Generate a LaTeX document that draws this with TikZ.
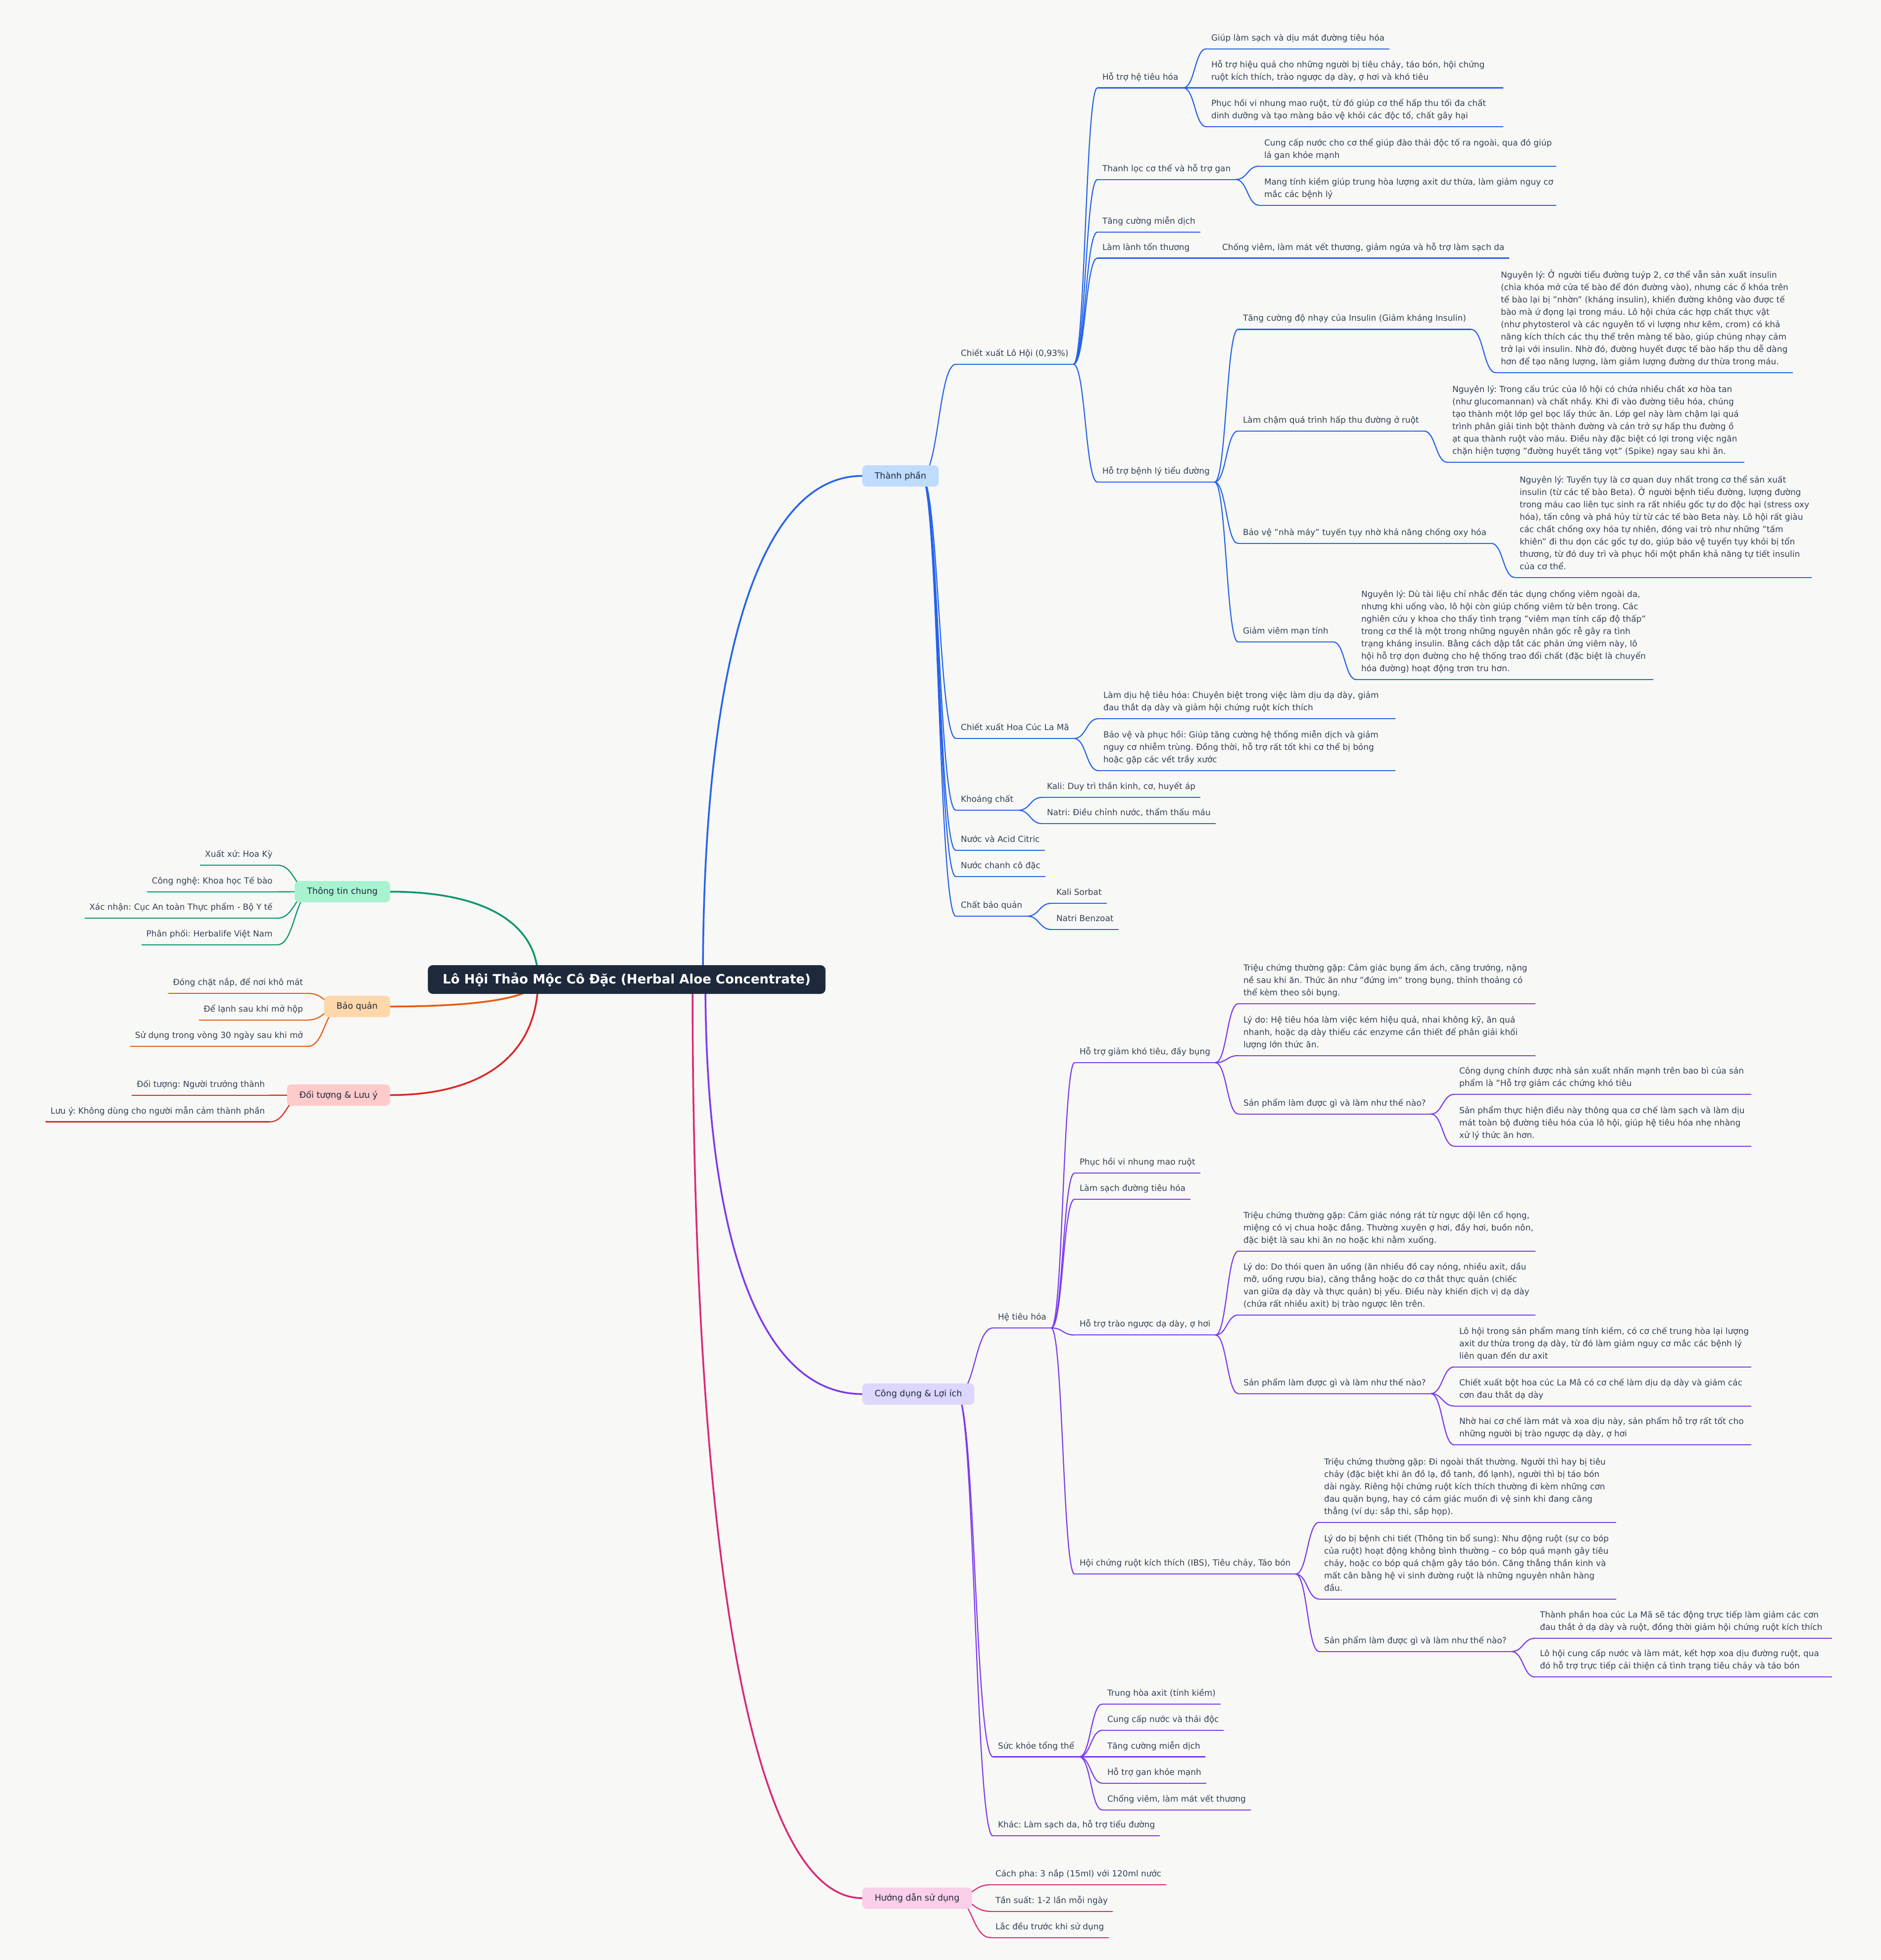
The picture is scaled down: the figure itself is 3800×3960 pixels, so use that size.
\documentclass[tikz,border=0pt]{standalone}
\usepackage{fontspec}
\setmainfont{DejaVu Sans}
\usetikzlibrary{calc}
\frenchspacing
\pgfdeclarelayer{back}
\pgfdeclarelayer{bg}
\pgfsetlayers{back,bg,main}
\definecolor{bgc}{HTML}{F8F8F6}
\definecolor{tx}{HTML}{334155}
\definecolor{tx2}{HTML}{1E293B}
\definecolor{cRoot}{HTML}{1E293B}
\definecolor{cB}{HTML}{2563EB}
\definecolor{cP}{HTML}{7C3AED}
\definecolor{cK}{HTML}{DB2777}
\definecolor{cG}{HTML}{059669}
\definecolor{cO}{HTML}{EA580C}
\definecolor{cR}{HTML}{DC2626}
\definecolor{fB}{HTML}{BFDBFE}
\definecolor{fP}{HTML}{DDD6FE}
\definecolor{fK}{HTML}{FBCFE8}
\definecolor{fG}{HTML}{A7F3D0}
\definecolor{fO}{HTML}{FED7AA}
\definecolor{fR}{HTML}{FECACA}
\newcommand\dstrut{\rule[-16.5pt]{0pt}{16.5pt}}
\tikzset{
  txt/.style={font=\fontsize{16.9}{25}\selectfont\frenchspacing, text=tx, inner xsep=10pt, inner ysep=0pt, outer sep=0pt, align=left},
  ul/.style={draw=#1, line width=2.2pt},
  lk/.style={draw=#1, line width=2.2pt},
  rlk/.style={draw=#1, line width=3.5pt},
  mm/.style={to path={let \p1=(\tikztostart), \p2=(\tikztotarget) in .. controls ({(\x1+\x2)/2},\y1) and ({(\x1+\x2)/2},\y2) .. (\tikztotarget)}},
  rc/.style={to path={let \p1=(\tikztostart), \p2=(\tikztotarget) in .. controls (\x1,{\y1+0.62*(\y2-\y1)}) and ({\x1+0.34*(\x2-\x1)},\y2) .. (\tikztotarget)}},
  box/.style={rounded corners=9pt, minimum height=43pt, inner xsep=25pt, inner ysep=0pt, font=\fontsize{17.5}{21}\selectfont, text=tx2, outer sep=0pt},
  rootbox/.style={fill=cRoot, text=white, rounded corners=10pt, minimum height=58pt, minimum width=802pt, inner xsep=30pt, font=\fontsize{26}{30}\selectfont\bfseries, outer sep=0pt}
}
% right-side single line node: name, text left x, underline y, colour, text
\newcommand\nR[5]{\node[txt,anchor=south west] (#1) at (#2-10,#3) {#5\dstrut};
  \draw[ul=#4] (#1.south west) -- (#1.south east);}
% right-side wrapped node (fixed 600 width underline)
\newcommand\wR[5]{\node[txt,anchor=south west] (#1) at (#2-10,#3) {#5\dstrut};
  \draw[ul=#4] (#1.south west) -- ++(600,0);}
% left-side node: name, text right x, underline y, colour, text
\newcommand\nL[5]{\node[txt,anchor=south east] (#1) at (#2+12,#3) {#5\dstrut};
  \draw[ul=#4] (#1.south west) -- (#1.south east);}

\begin{document}
\begin{tikzpicture}[x=1pt,y=-1pt]
\useasboundingbox (0,0) rectangle (3800,3960);
\begin{pgfonlayer}{back}
\fill[bgc] (0,0) rectangle (3800,3960);
\end{pgfonlayer}

% ---------- root and branch boxes ----------
\node[rootbox] (root) at (1266,1979) {Lô Hội Thảo Mộc Cô Đặc (Herbal Aloe Concentrate)};
\node[box, fill=fB, anchor=west] (tpb) at (1742,961.5) {Thành phần};
\node[box, fill=fP, anchor=west] (cdb) at (1742,2816.5) {Công dụng \& Lợi ích};
\node[box, fill=fK, anchor=west] (hdb) at (1742,3835) {Hướng dẫn sử dụng};
\node[box, fill=fG, anchor=east] (ttb) at (788,1801.5) {Thông tin chung};
\node[box, fill=fO, anchor=east] (bqb) at (788,2033.5) {Bảo quản};
\node[box, fill=fR, anchor=east] (dtb) at (788,2212.5) {Đối tượng \& Lưu ý};

\coordinate (rsL) at (1087,1979);
\coordinate (rsB) at (1420,1979);
\coordinate (rsP) at (1425,1979);
\coordinate (rsK) at (1399,1979);
\coordinate (tpsrc) at ($(tpb.east)+(-35,0)$);
\coordinate (cdsrc) at ($(cdb.east)+(-35,0)$);
\coordinate (hdsrc) at ($(hdb.east)+(-35,0)$);
\coordinate (ttsrc) at ($(ttb.west)+(35,0)$);
\coordinate (bqsrc) at ($(bqb.west)+(35,0)$);
\coordinate (dtsrc) at ($(dtb.west)+(35,0)$);

% ---------- Thành phần ----------
\nR{lohoi}{1941}{736}{cB}{Chiết xuất Lô Hội (0,93\%)}
\nR{ht1}{2227}{177.5}{cB}{Hỗ trợ hệ tiêu hóa}
\nR{ht1a}{2447}{98.7}{cB}{Giúp làm sạch và dịu mát đường tiêu hóa}
\wR{ht1b}{2447}{177.5}{cB}{Hỗ trợ hiệu quả cho những người bị tiêu chảy, táo bón, hội chứng\\ruột kích thích, trào ngược dạ dày, ợ hơi và khó tiêu}
\wR{ht1c}{2447}{256}{cB}{Phục hồi vi nhung mao ruột, từ đó giúp cơ thể hấp thu tối đa chất\\dinh dưỡng và tạo màng bảo vệ khỏi các độc tố, chất gây hại}
\nR{ht2}{2227}{362.7}{cB}{Thanh lọc cơ thể và hỗ trợ gan}
\wR{ht2a}{2554}{335.6}{cB}{Cung cấp nước cho cơ thể giúp đào thải độc tố ra ngoài, qua đó giúp\\lá gan khỏe mạnh}
\wR{ht2b}{2554}{414.7}{cB}{Mang tính kiềm giúp trung hòa lượng axit dư thừa, làm giảm nguy cơ\\mắc các bệnh lý}
\nR{ht3}{2227}{469}{cB}{Tăng cường miễn dịch}
\nR{ht4}{2227}{521.5}{cB}{Làm lành tổn thương}
\nR{ht4a}{2469}{521.5}{cB}{Chống viêm, làm mát vết thương, giảm ngứa và hỗ trợ làm sạch da}
\nR{ht5}{2227}{974}{cB}{Hỗ trợ bệnh lý tiểu đường}
\nR{td1}{2511}{665.4}{cB}{Tăng cường độ nhạy của Insulin (Giảm kháng Insulin)}
\wR{td1a}{3032}{753}{cB}{Nguyên lý: Ở người tiểu đường tuýp 2, cơ thể vẫn sản xuất insulin\\(chìa khóa mở cửa tế bào để đón đường vào), nhưng các ổ khóa trên\\tế bào lại bị "nhờn" (kháng insulin), khiến đường không vào được tế\\bào mà ứ đọng lại trong máu. Lô hội chứa các hợp chất thực vật\\(như phytosterol và các nguyên tố vi lượng như kẽm, crom) có khả\\năng kích thích các thụ thể trên màng tế bào, giúp chúng nhạy cảm\\trở lại với insulin. Nhờ đó, đường huyết được tế bào hấp thu dễ dàng\\hơn để tạo năng lượng, làm giảm lượng đường dư thừa trong máu.}
\nR{td2}{2511}{870.8}{cB}{Làm chậm quá trình hấp thu đường ở ruột}
\wR{td2a}{2934}{934}{cB}{Nguyên lý: Trong cấu trúc của lô hội có chứa nhiều chất xơ hòa tan\\(như glucomannan) và chất nhầy. Khi đi vào đường tiêu hóa, chúng\\tạo thành một lớp gel bọc lấy thức ăn. Lớp gel này làm chậm lại quá\\trình phân giải tinh bột thành đường và cản trở sự hấp thu đường ồ\\ạt qua thành ruột vào máu. Điều này đặc biệt có lợi trong việc ngăn\\chặn hiện tượng "đường huyết tăng vọt" (Spike) ngay sau khi ăn.}
\nR{td3}{2511}{1097.8}{cB}{Bảo vệ "nhà máy" tuyến tụy nhờ khả năng chống oxy hóa}
\wR{td3a}{3070}{1166.6}{cB}{Nguyên lý: Tuyến tụy là cơ quan duy nhất trong cơ thể sản xuất\\insulin (từ các tế bào Beta). Ở người bệnh tiểu đường, lượng đường\\trong máu cao liên tục sinh ra rất nhiều gốc tự do độc hại (stress oxy\\hóa), tấn công và phá hủy từ từ các tế bào Beta này. Lô hội rất giàu\\các chất chống oxy hóa tự nhiên, đóng vai trò như những "tấm\\khiên" đi thu dọn các gốc tự do, giúp bảo vệ tuyến tụy khỏi bị tổn\\thương, từ đó duy trì và phục hồi một phần khả năng tự tiết insulin\\của cơ thể.}
\nR{td4}{2511}{1297}{cB}{Giảm viêm mạn tính}
\wR{td4a}{2750}{1373}{cB}{Nguyên lý: Dù tài liệu chỉ nhắc đến tác dụng chống viêm ngoài da,\\nhưng khi uống vào, lô hội còn giúp chống viêm từ bên trong. Các\\nghiên cứu y khoa cho thấy tình trạng "viêm mạn tính cấp độ thấp"\\trong cơ thể là một trong những nguyên nhân gốc rễ gây ra tình\\trạng kháng insulin. Bằng cách dập tắt các phản ứng viêm này, lô\\hội hỗ trợ dọn đường cho hệ thống trao đổi chất (đặc biệt là chuyển\\hóa đường) hoạt động trơn tru hơn.}
\nR{hoacuc}{1941}{1492}{cB}{Chiết xuất Hoa Cúc La Mã}
\wR{hc1}{2229}{1452}{cB}{Làm dịu hệ tiêu hóa: Chuyên biệt trong việc làm dịu dạ dày, giảm\\đau thắt dạ dày và giảm hội chứng ruột kích thích}
\wR{hc2}{2229}{1557}{cB}{Bảo vệ và phục hồi: Giúp tăng cường hệ thống miễn dịch và giảm\\nguy cơ nhiễm trùng. Đồng thời, hỗ trợ rất tốt khi cơ thể bị bỏng\\hoặc gặp các vết trầy xước}
\nR{khoang}{1941}{1637}{cB}{Khoáng chất}
\nR{kc1}{2115}{1611}{cB}{Kali: Duy trì thần kinh, cơ, huyết áp}
\nR{kc2}{2115}{1664}{cB}{Natri: Điều chỉnh nước, thẩm thấu máu}
\nR{nuoc}{1941}{1718}{cB}{Nước và Acid Citric}
\nR{chanh}{1941}{1771}{cB}{Nước chanh cô đặc}
\nR{cbq}{1941}{1851}{cB}{Chất bảo quản}
\nR{cb1}{2134}{1825}{cB}{Kali Sorbat}
\nR{cb2}{2134}{1878}{cB}{Natri Benzoat}

% ---------- Công dụng & Lợi ích ----------
\nR{hth}{2016}{2683}{cP}{Hệ tiêu hóa}
\nR{kt}{2181}{2147}{cP}{Hỗ trợ giảm khó tiêu, đầy bụng}
\wR{kt1}{2512}{2027.7}{cP}{Triệu chứng thường gặp: Cảm giác bụng ấm ách, căng trướng, nặng\\nề sau khi ăn. Thức ăn như "đứng im" trong bụng, thỉnh thoảng có\\thể kèm theo sôi bụng.}
\wR{kt2}{2512}{2132.7}{cP}{Lý do: Hệ tiêu hóa làm việc kém hiệu quả, nhai không kỹ, ăn quá\\nhanh, hoặc dạ dày thiếu các enzyme cần thiết để phân giải khối\\lượng lớn thức ăn.}
\nR{kt3}{2512}{2250.7}{cP}{Sản phẩm làm được gì và làm như thế nào?}
\wR{kt3a}{2948}{2211}{cP}{Công dụng chính được nhà sản xuất nhấn mạnh trên bao bì của sản\\phẩm là "Hỗ trợ giảm các chứng khó tiêu}
\wR{kt3b}{2948}{2315.7}{cP}{Sản phẩm thực hiện điều này thông qua cơ chế làm sạch và làm dịu\\mát toàn bộ đường tiêu hóa của lô hội, giúp hệ tiêu hóa nhẹ nhàng\\xử lý thức ăn hơn.}
\nR{vn}{2181}{2370}{cP}{Phục hồi vi nhung mao ruột}
\nR{ls}{2181}{2422.7}{cP}{Làm sạch đường tiêu hóa}
\nR{tn}{2181}{2697.3}{cP}{Hỗ trợ trào ngược dạ dày, ợ hơi}
\wR{tn1}{2512}{2527.7}{cP}{Triệu chứng thường gặp: Cảm giác nóng rát từ ngực dội lên cổ họng,\\miệng có vị chua hoặc đắng. Thường xuyên ợ hơi, đầy hơi, buồn nôn,\\đặc biệt là sau khi ăn no hoặc khi nằm xuống.}
\wR{tn2}{2512}{2656.7}{cP}{Lý do: Do thói quen ăn uống (ăn nhiều đồ cay nóng, nhiều axit, dầu\\mỡ, uống rượu bia), căng thẳng hoặc do cơ thắt thực quản (chiếc\\van giữa dạ dày và thực quản) bị yếu. Điều này khiến dịch vị dạ dày\\(chứa rất nhiều axit) bị trào ngược lên trên.}
\nR{tn3}{2512}{2815.7}{cP}{Sản phẩm làm được gì và làm như thế nào?}
\wR{tn3a}{2948}{2761.7}{cP}{Lô hội trong sản phẩm mang tính kiềm, có cơ chế trung hòa lại lượng\\axit dư thừa trong dạ dày, từ đó làm giảm nguy cơ mắc các bệnh lý\\liên quan đến dư axit}
\wR{tn3b}{2948}{2840.7}{cP}{Chiết xuất bột hoa cúc La Mã có cơ chế làm dịu dạ dày và giảm các\\cơn đau thắt dạ dày}
\wR{tn3c}{2948}{2919.3}{cP}{Nhờ hai cơ chế làm mát và xoa dịu này, sản phẩm hỗ trợ rất tốt cho\\những người bị trào ngược dạ dày, ợ hơi}
\nR{ibs}{2181}{3180.3}{cP}{Hội chứng ruột kích thích (IBS), Tiêu chảy, Táo bón}
\wR{ibs1}{2675}{3075.7}{cP}{Triệu chứng thường gặp: Đi ngoài thất thường. Người thì hay bị tiêu\\chảy (đặc biệt khi ăn đồ lạ, đồ tanh, đồ lạnh), người thì bị táo bón\\dài ngày. Riêng hội chứng ruột kích thích thường đi kèm những cơn\\đau quặn bụng, hay có cảm giác muốn đi vệ sinh khi đang căng\\thẳng (ví dụ: sắp thi, sắp họp).}
\wR{ibs2}{2675}{3230.7}{cP}{Lý do bị bệnh chi tiết (Thông tin bổ sung): Nhu động ruột (sự co bóp\\của ruột) hoạt động không bình thường – co bóp quá mạnh gây tiêu\\chảy, hoặc co bóp quá chậm gây táo bón. Căng thẳng thần kinh và\\mất cân bằng hệ vi sinh đường ruột là những nguyên nhân hàng\\đầu.}
\nR{ibs3}{2675}{3336.7}{cP}{Sản phẩm làm được gì và làm như thế nào?}
\wR{ibs3a}{3111}{3310}{cP}{Thành phần hoa cúc La Mã sẽ tác động trực tiếp làm giảm các cơn\\đau thắt ở dạ dày và ruột, đồng thời giảm hội chứng ruột kích thích}
\wR{ibs3b}{3111}{3388.3}{cP}{Lô hội cung cấp nước và làm mát, kết hợp xoa dịu đường ruột, qua\\đó hỗ trợ trực tiếp cải thiện cả tình trạng tiêu chảy và táo bón}
\nR{sk}{2016}{3549.5}{cP}{Sức khỏe tổng thể}
\nR{sk1}{2237}{3442.9}{cP}{Trung hòa axit (tính kiềm)}
\nR{sk2}{2237}{3495.8}{cP}{Cung cấp nước và thải độc}
\nR{sk3}{2237}{3549.5}{cP}{Tăng cường miễn dịch}
\nR{sk4}{2237}{3602.7}{cP}{Hỗ trợ gan khỏe mạnh}
\nR{sk5}{2237}{3656.8}{cP}{Chống viêm, làm mát vết thương}
\nR{khac}{2016}{3709.3}{cP}{Khác: Làm sạch da, hỗ trợ tiểu đường}

% ---------- Hướng dẫn sử dụng ----------
\nR{hd1}{2011}{3808}{cK}{Cách pha: 3 nắp (15ml) với 120ml nước}
\nR{hd2}{2011}{3861.7}{cK}{Tần suất: 1-2 lần mỗi ngày}
\nR{hd3}{2011}{3914.7}{cK}{Lắc đều trước khi sử dụng}

% ---------- left side ----------
\nL{tt1}{548.5}{1748}{cG}{Xuất xứ: Hoa Kỳ}
\nL{tt2}{548.5}{1801.7}{cG}{Công nghệ: Khoa học Tế bào}
\nL{tt3}{548.5}{1855}{cG}{Xác nhận: Cục An toàn Thực phẩm - Bộ Y tế}
\nL{tt4}{548.5}{1908.7}{cG}{Phân phối: Herbalife Việt Nam}
\nL{bq1}{610}{2007}{cO}{Đóng chặt nắp, để nơi khô mát}
\nL{bq2}{610}{2060.7}{cO}{Để lạnh sau khi mở hộp}
\nL{bq3}{610}{2114}{cO}{Sử dụng trong vòng 30 ngày sau khi mở}
\nL{dt1}{533}{2212.8}{cR}{Đối tượng: Người trưởng thành}
\nL{dt2}{533}{2266.5}{cR}{Lưu ý: Không dùng cho người mẫn cảm thành phần}

% ---------- connectors ----------
\begin{pgfonlayer}{bg}
\draw[rlk=cG] (rsL) to[rc] (ttb.east);
\draw[rlk=cO] (rsL) to[rc] (bqb.east);
\draw[rlk=cR] (rsL) to[rc] (dtb.east);
\draw[rlk=cB] (rsB) to[rc] (tpb.west);
\draw[rlk=cP] (rsP) to[rc] (cdb.west);
\draw[rlk=cK] (rsK) to[rc] (hdb.west);

\foreach \c in {lohoi,hoacuc,khoang,nuoc,chanh,cbq} \draw[lk=cB] (tpsrc) to[mm] (\c.south west);
\foreach \c in {ht1,ht2,ht3,ht4,ht5} \draw[lk=cB] (lohoi.south east) to[mm] (\c.south west);
\foreach \c in {ht1a,ht1b,ht1c} \draw[lk=cB] (ht1.south east) to[mm] (\c.south west);
\foreach \c in {ht2a,ht2b} \draw[lk=cB] (ht2.south east) to[mm] (\c.south west);
\draw[lk=cB] (ht4.south east) to[mm] (ht4a.south west);
\foreach \c in {td1,td2,td3,td4} \draw[lk=cB] (ht5.south east) to[mm] (\c.south west);
\draw[lk=cB] (td1.south east) to[mm] (td1a.south west);
\draw[lk=cB] (td2.south east) to[mm] (td2a.south west);
\draw[lk=cB] (td3.south east) to[mm] (td3a.south west);
\draw[lk=cB] (td4.south east) to[mm] (td4a.south west);
\foreach \c in {hc1,hc2} \draw[lk=cB] (hoacuc.south east) to[mm] (\c.south west);
\foreach \c in {kc1,kc2} \draw[lk=cB] (khoang.south east) to[mm] (\c.south west);
\foreach \c in {cb1,cb2} \draw[lk=cB] (cbq.south east) to[mm] (\c.south west);

\foreach \c in {hth,sk,khac} \draw[lk=cP] (cdsrc) to[mm] (\c.south west);
\foreach \c in {kt,vn,ls,tn,ibs} \draw[lk=cP] (hth.south east) to[mm] (\c.south west);
\foreach \c in {kt1,kt2,kt3} \draw[lk=cP] (kt.south east) to[mm] (\c.south west);
\foreach \c in {kt3a,kt3b} \draw[lk=cP] (kt3.south east) to[mm] (\c.south west);
\foreach \c in {tn1,tn2,tn3} \draw[lk=cP] (tn.south east) to[mm] (\c.south west);
\foreach \c in {tn3a,tn3b,tn3c} \draw[lk=cP] (tn3.south east) to[mm] (\c.south west);
\foreach \c in {ibs1,ibs2,ibs3} \draw[lk=cP] (ibs.south east) to[mm] (\c.south west);
\foreach \c in {ibs3a,ibs3b} \draw[lk=cP] (ibs3.south east) to[mm] (\c.south west);
\foreach \c in {sk1,sk2,sk3,sk4,sk5} \draw[lk=cP] (sk.south east) to[mm] (\c.south west);

\foreach \c in {hd1,hd2,hd3} \draw[lk=cK] (hdsrc) to[mm] (\c.south west);

\foreach \c in {tt1,tt2,tt3,tt4} \draw[lk=cG] (ttsrc) to[mm] (\c.south east);
\foreach \c in {bq1,bq2,bq3} \draw[lk=cO] (bqsrc) to[mm] (\c.south east);
\foreach \c in {dt1,dt2} \draw[lk=cR] (dtsrc) to[mm] (\c.south east);
\end{pgfonlayer}
\end{tikzpicture}
\end{document}
